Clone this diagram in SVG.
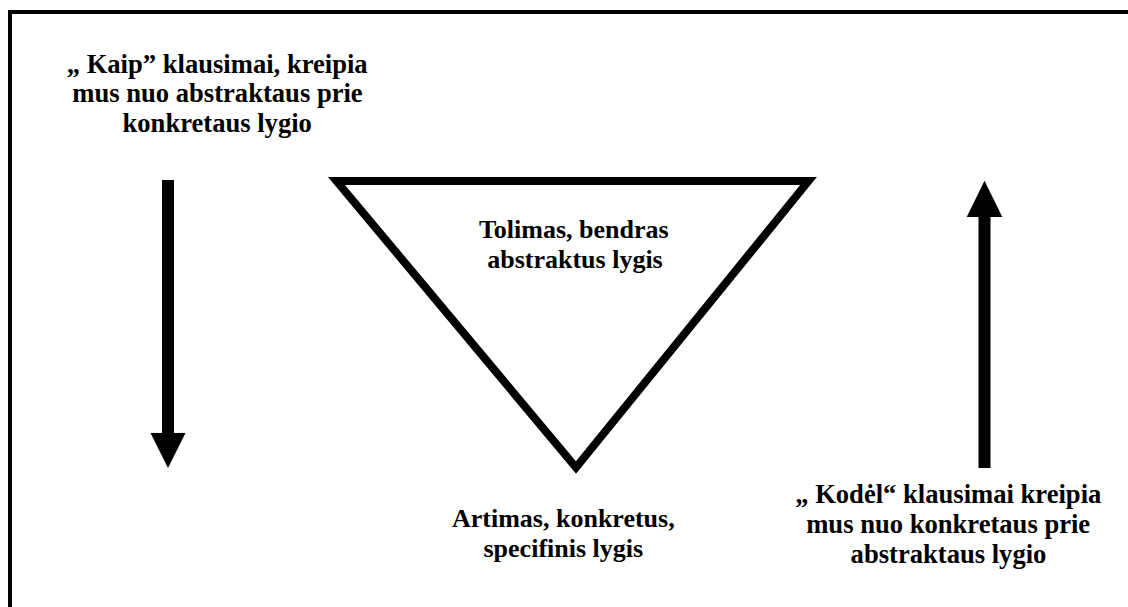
<svg xmlns="http://www.w3.org/2000/svg" width="1128" height="607" viewBox="0 0 1128 607">
  <rect x="0" y="0" width="1128" height="607" fill="#fff"/>
  <g id="frame">
    <path d="M10,607 V12 H1128" fill="none" stroke="#000" stroke-width="4"/>
  </g>
  <g id="how-label">
    <text x="66.7" y="72.5" font-family="Liberation Serif" font-weight="bold" font-size="26.6">„ Kaip” klausimai, kreipia</text>
    <text x="72.3" y="102" font-family="Liberation Serif" font-weight="bold" font-size="26.6">mus nuo abstraktaus prie</text>
    <text x="122.5" y="131.5" font-family="Liberation Serif" font-weight="bold" font-size="26.6">konkretaus lygio</text>
  </g>
  <g id="triangle">
    <polygon points="336.5,181 808.5,181 576,467.5" fill="#fff" stroke="#000" stroke-width="8" stroke-linejoin="miter" stroke-miterlimit="10"/>
    <text x="478.9" y="238" font-family="Liberation Serif" font-weight="bold" font-size="26">Tolimas, bendras</text>
    <text x="487.2" y="268" font-family="Liberation Serif" font-weight="bold" font-size="26">abstraktus lygis</text>
  </g>
  <g id="bottom-label">
    <text x="452" y="527" font-family="Liberation Serif" font-weight="bold" font-size="26">Artimas, konkretus,</text>
    <text x="483.5" y="557" font-family="Liberation Serif" font-weight="bold" font-size="26">specifinis lygis</text>
  </g>
  <g id="why-label">
    <text x="795.2" y="503" font-family="Liberation Serif" font-weight="bold" font-size="26.6">„ Kodėl“ klausimai kreipia</text>
    <text x="806.2" y="533" font-family="Liberation Serif" font-weight="bold" font-size="26.6">mus nuo konkretaus prie</text>
    <text x="850.6" y="563" font-family="Liberation Serif" font-weight="bold" font-size="26.6">abstraktaus lygio</text>
  </g>
  <g id="connectors" fill="#000">
    <g id="arrow-down">
      <rect x="162" y="180" width="12" height="254"/>
      <polygon points="150.5,433 185.5,433 168,468"/>
    </g>
    <g id="arrow-up">
      <rect x="978.5" y="216" width="12" height="252"/>
      <polygon points="966.7,217 1002.3,217 984.5,180.7"/>
    </g>
  </g>
</svg>
